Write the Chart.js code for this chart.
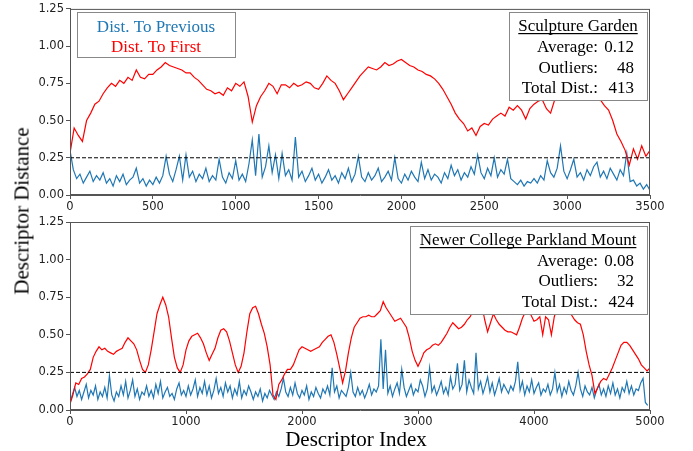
<!DOCTYPE html>
<html>
<head>
<meta charset="utf-8">
<script src="https://cdn.jsdelivr.net/npm/chart.js@4.4.1/dist/chart.umd.min.js"></script>
<style>
  body { margin: 0; background: #fff; }
  #wrap { position: relative; width: 693px; height: 451px; overflow: hidden; }
  canvas { position: absolute; left: 0; }
  #topChart { top: 0; }
  #bottomChart { top: 212px; }
  .lbl { position: absolute; font-family: 'Liberation Serif', serif; font-size: 21px; color: #000; white-space: nowrap; }
  #ylabel { left: 22px; top: 211px; transform: translate(-50%, -50%) rotate(-90deg); }
  #xlabel { left: 356px; top: 439px; transform: translate(-50%, -50%); }
</style>
</head>
<body>
<div id="wrap">
  <canvas id="topChart" width="693" height="212"></canvas>
  <canvas id="bottomChart" width="693" height="239"></canvas>
  <div id="ylabel" class="lbl">Descriptor Distance</div>
  <div id="xlabel" class="lbl">Descriptor Index</div>
</div>
<script>
// sample spacing (descriptor index) of the values below
const stepPrev = 20;
const stepFirst = 25;
const threshold = 0.25;

const yTicks = [0, 0.25, 0.5, 0.75, 1.0, 1.25];
const topXTicks = [0, 500, 1000, 1500, 2000, 2500, 3000, 3500];
const bottomXTicks = [0, 1000, 2000, 3000, 4000, 5000];

// Sculpture Garden - distance to previous, every 20 descriptors
const gardenPrev = [
  0.30, 0.17, 0.11, 0.14, 0.08, 0.12, 0.16, 0.09, 0.13, 0.10,
  0.15, 0.08, 0.11, 0.06, 0.13, 0.09, 0.14, 0.07, 0.10, 0.12,
  0.18, 0.08, 0.11, 0.06, 0.10, 0.07, 0.12, 0.08, 0.13, 0.26,
  0.14, 0.09, 0.17, 0.26, 0.10, 0.27, 0.12, 0.16, 0.09, 0.14,
  0.11, 0.18, 0.09, 0.13, 0.10, 0.24, 0.12, 0.08, 0.15, 0.11,
  0.23, 0.10, 0.14, 0.09, 0.21, 0.37, 0.13, 0.41, 0.12, 0.19,
  0.33, 0.15, 0.27, 0.11, 0.28, 0.13, 0.17, 0.10, 0.39, 0.12,
  0.16, 0.09, 0.13, 0.18, 0.10, 0.14, 0.08, 0.12, 0.17, 0.10,
  0.13, 0.08, 0.15, 0.11, 0.18, 0.09, 0.14, 0.26, 0.12, 0.09,
  0.15, 0.10, 0.13, 0.18, 0.09, 0.12, 0.16, 0.10, 0.25, 0.11,
  0.08, 0.14, 0.10, 0.16, 0.12, 0.09, 0.22, 0.11, 0.17, 0.10,
  0.14, 0.12, 0.08, 0.15, 0.11, 0.20, 0.13, 0.17, 0.10, 0.15,
  0.12, 0.19, 0.14, 0.27, 0.15, 0.11, 0.18, 0.13, 0.25, 0.12,
  0.17, 0.14, 0.24, 0.11, 0.09, 0.07, 0.10, 0.06, 0.09, 0.08,
  0.11, 0.08, 0.13, 0.10, 0.23, 0.15, 0.12, 0.18, 0.33, 0.16,
  0.11, 0.17, 0.24, 0.12, 0.15, 0.10, 0.17, 0.13, 0.19, 0.22,
  0.12, 0.16, 0.11, 0.18, 0.14, 0.10, 0.17, 0.13, 0.28, 0.09,
  0.10, 0.06, 0.08, 0.04, 0.07, 0.03
];
// Sculpture Garden - distance to first, every 25 descriptors
const gardenFirst = [
  0.28, 0.45, 0.40, 0.36, 0.50, 0.55, 0.61, 0.63, 0.68, 0.72,
  0.75, 0.73, 0.77, 0.75, 0.79, 0.77, 0.84, 0.79, 0.78, 0.81,
  0.81, 0.84, 0.86, 0.89, 0.87, 0.86, 0.85, 0.84, 0.82, 0.82,
  0.79, 0.77, 0.74, 0.71, 0.70, 0.68, 0.69, 0.67, 0.72, 0.70,
  0.75, 0.73, 0.76, 0.66, 0.49, 0.60, 0.66, 0.70, 0.75, 0.73,
  0.68, 0.74, 0.74, 0.72, 0.75, 0.73, 0.74, 0.76, 0.75, 0.72,
  0.71, 0.75, 0.80, 0.77, 0.75, 0.70, 0.64, 0.68, 0.72, 0.76,
  0.80, 0.83, 0.86, 0.85, 0.84, 0.86, 0.89, 0.87, 0.88, 0.90,
  0.91, 0.89, 0.87, 0.86, 0.84, 0.83, 0.81, 0.80, 0.78, 0.75,
  0.71, 0.66, 0.61, 0.55, 0.51, 0.48, 0.43, 0.45, 0.40, 0.46,
  0.48, 0.47, 0.51, 0.53, 0.55, 0.53, 0.59, 0.57, 0.60, 0.57,
  0.51, 0.58, 0.61, 0.63, 0.64, 0.58, 0.55, 0.64, 0.72, 0.76,
  0.78, 0.80, 0.80, 0.79, 0.78, 0.75, 0.72, 0.66, 0.64, 0.60,
  0.57, 0.50, 0.41, 0.36, 0.30, 0.20, 0.31, 0.24, 0.33, 0.26,
  0.30
];

// Newer College Parkland Mount - distance to previous, every 20 descriptors
const parklandPrev = [
  0.05, 0.10, 0.15, 0.09, 0.13, 0.07, 0.12, 0.17, 0.08, 0.13,
  0.10, 0.16, 0.07, 0.12, 0.09, 0.15, 0.08, 0.23, 0.10, 0.06,
  0.12, 0.09, 0.16, 0.10, 0.19, 0.08, 0.13, 0.20, 0.09, 0.14,
  0.07, 0.12, 0.10, 0.16, 0.09, 0.13, 0.08, 0.17, 0.11, 0.19,
  0.08, 0.12, 0.15, 0.09, 0.11, 0.07, 0.14, 0.18, 0.10, 0.13,
  0.09, 0.16, 0.10, 0.14, 0.20, 0.09, 0.15, 0.11, 0.19, 0.10,
  0.16, 0.08, 0.13, 0.21, 0.11, 0.15, 0.09, 0.18, 0.12, 0.16,
  0.08, 0.14, 0.10, 0.19, 0.08, 0.13, 0.10, 0.16, 0.12, 0.07,
  0.12, 0.09, 0.14, 0.06, 0.11, 0.08, 0.13, 0.10, 0.07, 0.12,
  0.09, 0.14, 0.21, 0.12, 0.09, 0.15, 0.10, 0.18, 0.11, 0.08,
  0.13, 0.10, 0.16, 0.07, 0.12, 0.09, 0.15, 0.11, 0.08, 0.14,
  0.11, 0.16, 0.10, 0.28, 0.12, 0.16, 0.08, 0.13, 0.11, 0.09,
  0.15, 0.25, 0.12, 0.09, 0.15, 0.10, 0.13, 0.08, 0.12, 0.17,
  0.10, 0.14, 0.12, 0.16, 0.47, 0.14, 0.40, 0.11, 0.16, 0.09,
  0.14, 0.18, 0.11, 0.27, 0.15, 0.09, 0.13, 0.17, 0.10, 0.14,
  0.12, 0.20, 0.16, 0.09, 0.14, 0.28, 0.12, 0.16, 0.10, 0.14,
  0.19, 0.11, 0.15, 0.10, 0.22, 0.14, 0.17, 0.31, 0.13, 0.17,
  0.33, 0.12, 0.20, 0.15, 0.11, 0.38, 0.14, 0.19, 0.11, 0.16,
  0.22, 0.12, 0.18, 0.10, 0.15, 0.21, 0.12, 0.17, 0.14, 0.11,
  0.16, 0.13, 0.19, 0.32, 0.13, 0.19, 0.10, 0.16, 0.12, 0.20,
  0.11, 0.15, 0.18, 0.10, 0.14, 0.12, 0.17, 0.10, 0.14, 0.25,
  0.12, 0.17, 0.09, 0.15, 0.11, 0.19, 0.13, 0.10, 0.16, 0.25,
  0.14, 0.09, 0.16, 0.12, 0.10, 0.15, 0.08, 0.13, 0.17, 0.10,
  0.14, 0.09, 0.16, 0.11, 0.18, 0.10, 0.14, 0.08, 0.15, 0.12,
  0.19, 0.11, 0.16, 0.10, 0.14, 0.13, 0.18, 0.21, 0.05, 0.03
];
// Newer College Parkland Mount - distance to first, every 25 descriptors
const parklandFirst = [
  0.04, 0.10, 0.18, 0.17, 0.21, 0.22, 0.24, 0.27, 0.35, 0.39,
  0.42, 0.40, 0.41, 0.39, 0.38, 0.37, 0.39, 0.40, 0.41, 0.45,
  0.48, 0.46, 0.44, 0.40, 0.33, 0.27, 0.25, 0.30, 0.40, 0.52,
  0.64, 0.70, 0.75, 0.70, 0.62, 0.48, 0.35, 0.28, 0.25, 0.30,
  0.40, 0.46, 0.49, 0.50, 0.51, 0.48, 0.44, 0.38, 0.33, 0.37,
  0.41, 0.48, 0.53, 0.54, 0.52, 0.46, 0.38, 0.30, 0.25, 0.29,
  0.38, 0.52, 0.64, 0.68, 0.69, 0.64, 0.57, 0.51, 0.42, 0.30,
  0.10, 0.07, 0.17, 0.20, 0.24, 0.27, 0.27, 0.30, 0.35, 0.40,
  0.42, 0.41, 0.40, 0.39, 0.40, 0.41, 0.42, 0.45, 0.47, 0.49,
  0.50, 0.45, 0.37, 0.28, 0.18, 0.26, 0.38, 0.48, 0.55, 0.58,
  0.61, 0.62, 0.62, 0.63, 0.62, 0.62, 0.64, 0.66, 0.72, 0.68,
  0.65, 0.62, 0.59, 0.60, 0.61, 0.58, 0.55, 0.48, 0.39, 0.33,
  0.29, 0.33, 0.38, 0.40, 0.41, 0.43, 0.44, 0.43, 0.45, 0.48,
  0.51, 0.55, 0.58, 0.56, 0.54, 0.55, 0.57, 0.60, 0.62, 0.66,
  0.68, 0.70, 0.70, 0.60, 0.52, 0.58, 0.64, 0.60, 0.57, 0.55,
  0.53, 0.52, 0.52, 0.51, 0.50, 0.55, 0.61, 0.65, 0.66, 0.63,
  0.59, 0.60, 0.62, 0.50, 0.62, 0.60, 0.50, 0.62, 0.68, 0.70,
  0.70, 0.68, 0.66, 0.63, 0.60, 0.58, 0.57, 0.50, 0.39, 0.30,
  0.23, 0.11, 0.15, 0.19, 0.21, 0.20, 0.24, 0.28, 0.33, 0.38,
  0.43, 0.45, 0.45, 0.43, 0.40, 0.37, 0.34, 0.30, 0.28, 0.26,
  0.28
];

function toPoints(values, step) {
  return values.map((v, i) => ({ x: i * step, y: v }));
}

Chart.defaults.font.family = "'DejaVu Sans', sans-serif";
Chart.defaults.font.size = 11.5;
Chart.defaults.color = '#222';

// frame on all four sides + white text boxes over the lines
const framePlugin = {
  id: 'frame',
  afterDatasetsDraw(chart) {
    const ctx = chart.ctx;
    const a = chart.chartArea;
    ctx.save();
    ctx.strokeStyle = '#555';
    ctx.lineWidth = 1;
    ctx.strokeRect(a.left + 0.5, a.top + 0.5, a.right - a.left - 1, a.bottom - a.top - 1);

    const boxes = chart.options.plugins.frame.boxes || [];
    boxes.forEach(b => {
      ctx.fillStyle = '#fff';
      ctx.fillRect(b.x, b.y, b.w, b.h);
      ctx.strokeStyle = '#888';
      ctx.strokeRect(b.x + 0.5, b.y + 0.5, b.w, b.h);
      ctx.font = "17px 'Liberation Serif', serif";
      ctx.textBaseline = 'alphabetic';
      b.lines.forEach(l => {
        ctx.fillStyle = l.color || '#000';
        ctx.textAlign = l.align || 'left';
        ctx.fillText(l.text, l.x, l.y);
        if (l.underline) {
          const w = ctx.measureText(l.text).width;
          const x0 = l.align === 'center' ? l.x - w / 2 : l.x;
          ctx.fillRect(x0, l.y + 2, w, 1.2);
        }
      });
    });
    ctx.restore();
  }
};

function makeChart(id, prev, first, xMax, xTicks, padTop, xHeight, boxes) {
  const ctx = document.getElementById(id).getContext('2d');
  return new Chart(ctx, {
    type: 'line',
    data: {
      datasets: [
        {
          label: 'Threshold',
          data: [{ x: 0, y: threshold }, { x: xMax, y: threshold }],
          borderColor: '#000',
          borderWidth: 1,
          borderDash: [4, 2],
          pointRadius: 0,
          order: 0
        },
        {
          label: 'Dist. To First',
          data: toPoints(first, stepFirst),
          borderColor: 'red',
          borderWidth: 1.2,
          pointRadius: 0,
          tension: 0,
          order: 1
        },
        {
          label: 'Dist. To Previous',
          data: toPoints(prev, stepPrev),
          borderColor: '#1f77b4',
          borderWidth: 1.2,
          pointRadius: 0,
          tension: 0,
          order: 2
        }
      ]
    },
    options: {
      responsive: false,
      animation: false,
      devicePixelRatio: 1,
      layout: { padding: { top: padTop, right: 43, left: 0, bottom: 0 } },
      scales: {
        x: {
          type: 'linear',
          min: 0,
          max: xMax,
          afterFit: s => { s.height = xHeight; },
          afterBuildTicks: s => { s.ticks = xTicks.map(v => ({ value: v })); },
          grid: { drawOnChartArea: false, tickLength: 4, color: '#555' },
          border: { color: '#555' },
          ticks: { padding: 1, maxRotation: 0, autoSkip: false, callback: v => String(v) }
        },
        y: {
          min: 0,
          max: 1.25,
          afterFit: s => { s.width = 70; },
          afterBuildTicks: s => { s.ticks = yTicks.map(v => ({ value: v })); },
          grid: { drawOnChartArea: false, tickLength: 4, color: '#555' },
          border: { color: '#555' },
          ticks: { padding: 2, autoSkip: false, callback: v => v.toFixed(2) }
        }
      },
      plugins: {
        legend: { display: false },
        tooltip: { enabled: false },
        frame: { boxes: boxes }
      }
    },
    plugins: [framePlugin]
  });
}

makeChart('topChart', gardenPrev, gardenFirst, 3500, topXTicks, 8, 17, [
  {
    x: 77, y: 12, w: 158, h: 45,
    lines: [
      { text: 'Dist. To Previous', x: 156, y: 32, align: 'center', color: '#1f77b4' },
      { text: 'Dist. To First', x: 156, y: 52, align: 'center', color: 'red' }
    ]
  },
  {
    x: 509, y: 12, w: 138, h: 88,
    lines: [
      { text: 'Sculpture Garden', x: 578, y: 31, align: 'center', underline: true },
      { text: 'Average:', x: 598, y: 52, align: 'right' },
      { text: '0.12', x: 634, y: 52, align: 'right' },
      { text: 'Outliers:', x: 598, y: 73, align: 'right' },
      { text: '48', x: 634, y: 73, align: 'right' },
      { text: 'Total Dist.:', x: 598, y: 93, align: 'right' },
      { text: '413', x: 634, y: 93, align: 'right' }
    ]
  }
]);

makeChart('bottomChart', parklandPrev, parklandFirst, 5000, bottomXTicks, 10, 41, [
  {
    x: 410, y: 14, w: 237, h: 88,
    lines: [
      { text: 'Newer College Parkland Mount', x: 528, y: 33, align: 'center', underline: true },
      { text: 'Average:', x: 598, y: 54, align: 'right' },
      { text: '0.08', x: 634, y: 54, align: 'right' },
      { text: 'Outliers:', x: 598, y: 74, align: 'right' },
      { text: '32', x: 634, y: 74, align: 'right' },
      { text: 'Total Dist.:', x: 598, y: 95, align: 'right' },
      { text: '424', x: 634, y: 95, align: 'right' }
    ]
  }
]);
</script>
</body>
</html>
